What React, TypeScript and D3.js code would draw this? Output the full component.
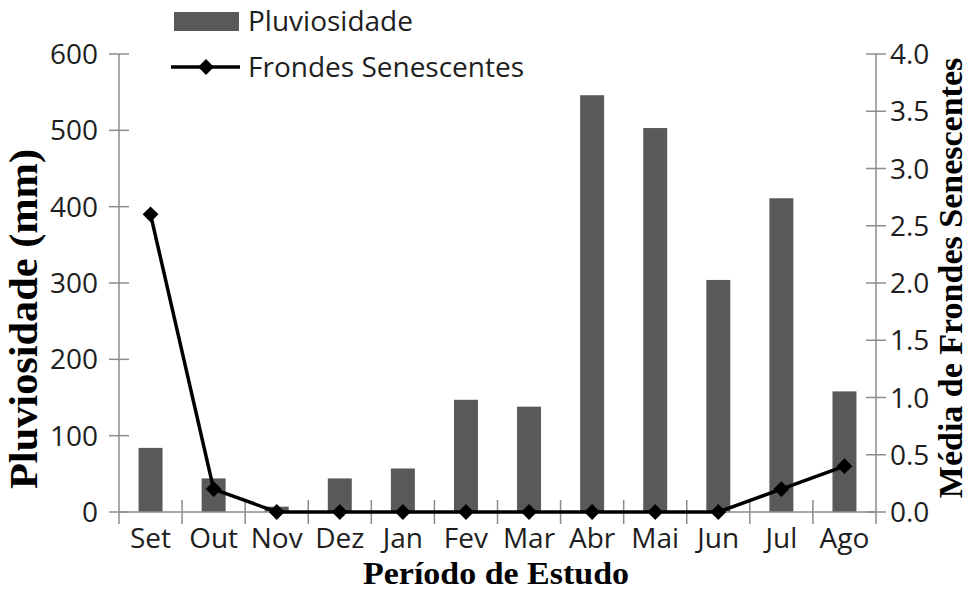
import { useRef, useEffect } from "react";
import * as d3 from "d3";

const months = ["Set", "Out", "Nov", "Dez", "Jan", "Fev", "Mar", "Abr", "Mai", "Jun", "Jul", "Ago"];
const rainfall = [84, 44, 7, 44, 57, 147, 138, 546, 503, 304, 411, 158];
const fronds = [2.6, 0.2, 0, 0, 0, 0, 0, 0, 0, 0, 0.2, 0.4];
const leftTicks = [0, 100, 200, 300, 400, 500, 600];
const rightTicks = [0, 0.5, 1, 1.5, 2, 2.5, 3, 3.5, 4];

const width = 970;
const height = 590;

export default function App() {
  const svgRef = useRef<SVGSVGElement>(null);

  useEffect(() => {
    if (!svgRef.current) return;
    const svg = d3.select(svgRef.current);
    svg.selectAll("*").remove();

    const margin = { top: 54, right: 94, bottom: 78, left: 119 };
    const innerWidth = width - margin.left - margin.right;
    const innerHeight = height - margin.top - margin.bottom;
    const axisColor = "#8c8c8c";
    const textColor = "#1e1e1e";
    const tickFont = "'Open Sans', sans-serif";
    const titleFont = "'Liberation Serif', 'Times New Roman', serif";

    const g = svg.append("g").attr("transform", `translate(${margin.left},${margin.top})`);

    const x = d3.scaleBand().domain(months).range([0, innerWidth]);
    const yLeft = d3.scaleLinear().domain([0, 600]).range([innerHeight, 0]);
    const yRight = d3.scaleLinear().domain([0, 4]).range([innerHeight, 0]);

    // Bars
    const barW = x.bandwidth() * 0.38;
    g.selectAll(".bar")
      .data(rainfall)
      .enter()
      .append("rect")
      .attr("x", (_, i) => x(months[i])! + x.bandwidth() / 2 - barW / 2)
      .attr("y", (d) => yLeft(d))
      .attr("width", barW)
      .attr("height", (d) => innerHeight - yLeft(d))
      .attr("fill", "#595959");

    // Left axis
    g.append("line")
      .attr("x1", 0).attr("x2", 0).attr("y1", 0).attr("y2", innerHeight)
      .attr("stroke", axisColor).attr("stroke-width", 1.5);
    leftTicks.forEach((t) => {
      g.append("line")
        .attr("x1", -10).attr("x2", 10).attr("y1", yLeft(t)).attr("y2", yLeft(t))
        .attr("stroke", axisColor).attr("stroke-width", 1.5);
      g.append("text")
        .attr("x", -21).attr("y", yLeft(t)).attr("dy", "0.36em")
        .attr("text-anchor", "end")
        .attr("font-family", tickFont).attr("font-size", 28).attr("fill", textColor)
        .text(t);
    });

    // Right axis
    g.append("line")
      .attr("x1", innerWidth).attr("x2", innerWidth).attr("y1", 0).attr("y2", innerHeight)
      .attr("stroke", axisColor).attr("stroke-width", 1.5);
    rightTicks.forEach((t) => {
      g.append("line")
        .attr("x1", innerWidth - 10).attr("x2", innerWidth + 10)
        .attr("y1", yRight(t)).attr("y2", yRight(t))
        .attr("stroke", axisColor).attr("stroke-width", 1.5);
      g.append("text")
        .attr("x", innerWidth + 14).attr("y", yRight(t)).attr("dy", "0.36em")
        .attr("font-family", tickFont).attr("font-size", 28).attr("fill", textColor)
        .text(d3.format(".1f")(t));
    });

    // X axis
    g.append("line")
      .attr("x1", 0).attr("x2", innerWidth).attr("y1", innerHeight).attr("y2", innerHeight)
      .attr("stroke", axisColor).attr("stroke-width", 1.5);
    months.forEach((m, i) => {
      if (i > 0) {
        g.append("line")
          .attr("x1", x(m)!).attr("x2", x(m)!)
          .attr("y1", innerHeight - 12).attr("y2", innerHeight + 12)
          .attr("stroke", axisColor).attr("stroke-width", 1.5);
      }
      g.append("text")
        .attr("x", x(m)! + x.bandwidth() / 2).attr("y", innerHeight + 36)
        .attr("text-anchor", "middle")
        .attr("font-family", tickFont).attr("font-size", 28).attr("fill", textColor)
        .text(m);
    });
    g.append("line")
      .attr("x1", 0).attr("x2", 0).attr("y1", innerHeight).attr("y2", innerHeight + 12)
      .attr("stroke", axisColor).attr("stroke-width", 1.5);
    g.append("line")
      .attr("x1", innerWidth).attr("x2", innerWidth).attr("y1", innerHeight).attr("y2", innerHeight + 12)
      .attr("stroke", axisColor).attr("stroke-width", 1.5);

    // Line series
    const line = d3
      .line<number>()
      .x((_, i) => x(months[i])! + x.bandwidth() / 2)
      .y((d) => yRight(d));
    g.append("path")
      .datum(fronds)
      .attr("d", line)
      .attr("fill", "none")
      .attr("stroke", "#000")
      .attr("stroke-width", 3.5);

    const diamond = d3.symbol().type(d3.symbolDiamond2).size(160);
    g.selectAll(".pt")
      .data(fronds)
      .enter()
      .append("path")
      .attr("d", diamond)
      .attr("transform", (d, i) => `translate(${x(months[i])! + x.bandwidth() / 2},${yRight(d)})`)
      .attr("fill", "#000");

    // Axis titles
    svg.append("text")
      .attr("transform", "translate(37,319) rotate(-90)")
      .attr("text-anchor", "middle")
      .attr("font-family", titleFont).attr("font-weight", "bold").attr("font-size", 41)
      .attr("textLength", 340).attr("lengthAdjust", "spacingAndGlyphs")
      .text("Pluviosidade (mm)");
    svg.append("text")
      .attr("transform", "translate(962,278) rotate(-90)")
      .attr("text-anchor", "middle")
      .attr("font-family", titleFont).attr("font-weight", "bold").attr("font-size", 34)
      .text("Média de Frondes Senescentes");
    svg.append("text")
      .attr("x", 496).attr("y", 584)
      .attr("text-anchor", "middle")
      .attr("font-family", titleFont).attr("font-weight", "bold").attr("font-size", 31)
      .attr("textLength", 266).attr("lengthAdjust", "spacingAndGlyphs")
      .text("Período de Estudo");

    // Legend
    const lg = svg.append("g");
    lg.append("rect")
      .attr("x", 174).attr("y", 12).attr("width", 65).attr("height", 19)
      .attr("fill", "#595959");
    lg.append("text")
      .attr("x", 248).attr("y", 21).attr("dy", "0.36em")
      .attr("font-family", tickFont).attr("font-size", 28).attr("fill", textColor)
      .text("Pluviosidade");
    lg.append("line")
      .attr("x1", 171).attr("x2", 240).attr("y1", 67).attr("y2", 67)
      .attr("stroke", "#000").attr("stroke-width", 3.5);
    lg.append("path")
      .attr("d", diamond)
      .attr("transform", "translate(206,67)")
      .attr("fill", "#000");
    lg.append("text")
      .attr("x", 248).attr("y", 67).attr("dy", "0.36em")
      .attr("font-family", tickFont).attr("font-size", 28).attr("fill", textColor)
      .text("Frondes Senescentes");
  }, []);

  return (
    <svg
      ref={svgRef}
      width={width}
      height={height}
      style={{ position: "absolute", left: 0, top: 0, background: "#fff" }}
    />
  );
}
